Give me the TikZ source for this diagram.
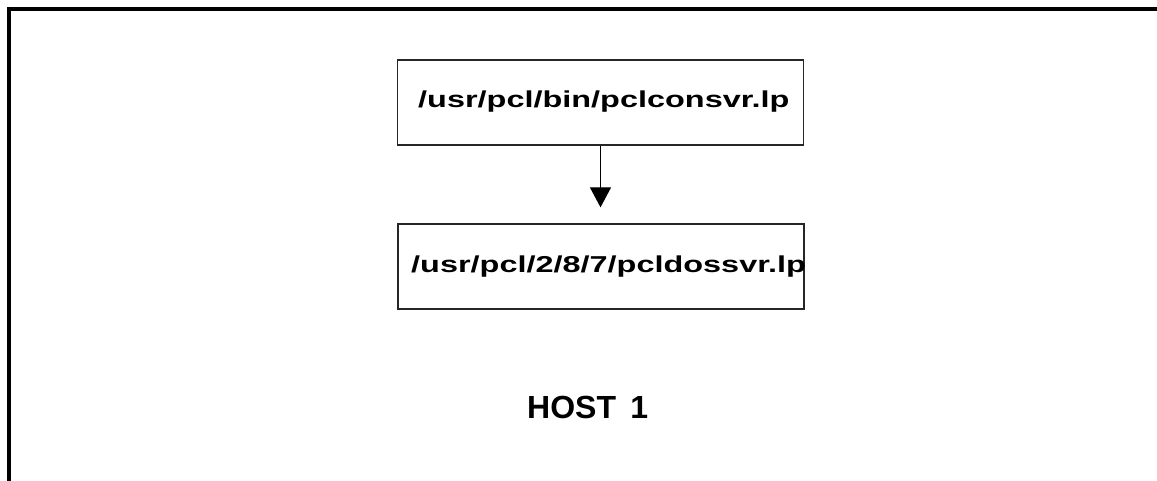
\documentclass[tikz,border=0pt]{standalone}
\usepackage{fontspec}
\setmainfont{Liberation Sans}
\usetikzlibrary{arrows.meta}

\tikzset{
  frameline/.style={line width=3.5pt, black},
  procbox/.style={draw=black!85, line width=1.3pt, rectangle, inner sep=0pt,
    minimum width=406pt, minimum height=85pt},
  pathlabel/.style={inner sep=0pt, anchor=base west,
    font=\fontsize{23}{23}\selectfont\bfseries},
  hostlabel/.style={inner sep=0pt, anchor=base west,
    font=\fontsize{32}{32}\selectfont\bfseries},
  flow/.style={line width=1.2pt, -{Triangle[width=21pt,length=20pt]}, shorten >=16pt}
}

\begin{document}
\begin{tikzpicture}[x=1pt, y=-1pt]
  \useasboundingbox (0,0) rectangle (1157,480);

  % open frame: top and left sides only
  \draw[frameline] (1160,9) -- (9,9) -- (9,482);

  % process boxes
  \node[procbox] (b1) at (600.5,102.5) {};
  \node[procbox] (b2) at (601,266.5) {};

  % their program paths
  \node[pathlabel] (t1) at (418,107) {\scalebox{1.41}[1]{/usr/pcl/bin/pclconsvr.lp}};
  \node[pathlabel] (t2) at (411,272) {\scalebox{1.41}[1]{/usr/pcl/2/8/7/pcldossvr.lp}};

  % launch arrow, straight down from the upper box
  \draw[flow] (b1.south) -- (b1.south |- b2.north);

  % host caption
  \node[hostlabel] (host) at (527,418) {HOST\hspace{0.45em}1};
\end{tikzpicture}
\end{document}
